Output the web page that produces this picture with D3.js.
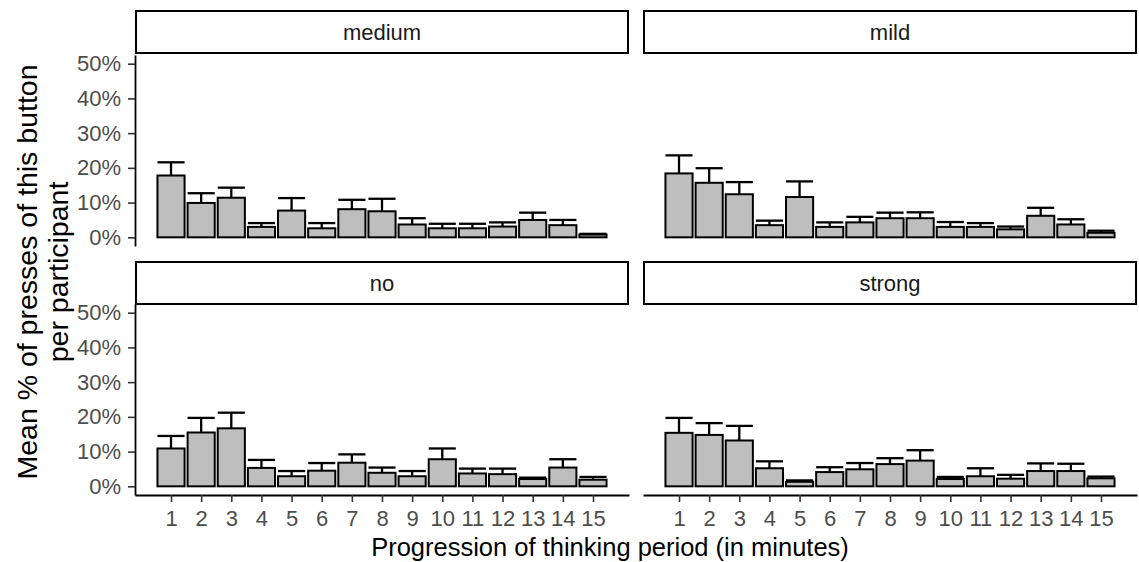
<!DOCTYPE html>
<html>
<head>
<meta charset="utf-8">
<script src="https://cdn.jsdelivr.net/npm/d3@7"></script>
<style>
  body { margin: 0; background: #fff; }
  text { font-family: "Liberation Sans", Arial, sans-serif; }
</style>
</head>
<body>
<div id="chart"></div>
<script>
// data (proportions)
var minutes = [1, 2, 3, 4, 5, 6, 7, 8, 9, 10, 11, 12, 13, 14, 15];
var conditions = ["medium", "mild", "no", "strong"];
var yTicks = [0, 0.1, 0.2, 0.3, 0.4, 0.5];

var meanMedium  = [0.178, 0.099, 0.114, 0.030, 0.077, 0.026, 0.081, 0.075, 0.037, 0.026, 0.026, 0.031, 0.050, 0.035, 0.008];
var upperMedium = [0.216, 0.127, 0.143, 0.041, 0.113, 0.041, 0.108, 0.111, 0.055, 0.039, 0.039, 0.043, 0.071, 0.050, 0.010];
var meanMild    = [0.184, 0.157, 0.124, 0.035, 0.116, 0.030, 0.043, 0.055, 0.055, 0.030, 0.030, 0.023, 0.062, 0.037, 0.013];
var upperMild   = [0.236, 0.199, 0.159, 0.048, 0.161, 0.043, 0.059, 0.071, 0.072, 0.044, 0.041, 0.031, 0.085, 0.052, 0.019];
var meanNo      = [0.109, 0.155, 0.167, 0.053, 0.029, 0.045, 0.068, 0.039, 0.029, 0.078, 0.037, 0.035, 0.021, 0.054, 0.019];
var upperNo     = [0.145, 0.197, 0.212, 0.076, 0.044, 0.067, 0.092, 0.054, 0.044, 0.109, 0.051, 0.051, 0.025, 0.078, 0.027];
var meanStrong  = [0.154, 0.148, 0.132, 0.052, 0.013, 0.041, 0.049, 0.064, 0.074, 0.021, 0.029, 0.022, 0.044, 0.044, 0.023];
var upperStrong = [0.197, 0.182, 0.174, 0.072, 0.017, 0.055, 0.067, 0.081, 0.104, 0.027, 0.052, 0.033, 0.066, 0.065, 0.028];

var means = {medium: meanMedium, mild: meanMild, no: meanNo, strong: meanStrong};
var uppers = {medium: upperMedium, mild: upperMild, no: upperNo, strong: upperStrong};

var svgWidth = 1139, svgHeight = 562;
var svg = d3.select("#chart").append("svg").attr("width", svgWidth).attr("height", svgHeight);

// panel layout (2 x 2 facets)
var colX = [135, 643];
var panelW = 494;
var rowStrip = [11, 262];
var stripH = 42;
var rowPanel = [55, 304];
var panelH = 191;
var barW = 0.9;
var textSize = 22;

var xScale = d3.scaleLinear().domain([0.55 - 0.745, 15.45 + 0.745]).range([0, panelW]);
var yScale = d3.scaleLinear().domain([-0.025, 0.525]).range([panelH, 0]);

conditions.forEach(function(cond, i) {
  var col = i % 2, row = Math.floor(i / 2);
  var g = svg.append("g").attr("transform", `translate(${colX[col]}, ${rowPanel[row]})`);

  // strip
  svg.append("rect")
    .attr("x", colX[col] + 1).attr("y", rowStrip[row])
    .attr("width", panelW - 2).attr("height", stripH)
    .attr("fill", "#fff").attr("stroke", "#000").attr("stroke-width", 2);
  svg.append("text")
    .attr("x", colX[col] + panelW / 2).attr("y", rowStrip[row] + stripH / 2)
    .attr("dy", "0.35em").attr("text-anchor", "middle")
    .attr("font-size", textSize).attr("fill", "#1a1a1a")
    .text(cond);

  var rows = minutes.map(function(m, k) { return {m: m, mean: means[cond][k], up: uppers[cond][k]}; });

  // error bars (upper half only; bar covers the rest)
  var eb = g.selectAll(".eb").data(rows).enter().append("g").attr("class", "eb");
  eb.append("line")
    .attr("x1", d => xScale(d.m)).attr("x2", d => xScale(d.m))
    .attr("y1", d => yScale(d.mean)).attr("y2", d => yScale(d.up))
    .attr("stroke", "#000").attr("stroke-width", 2.3);
  eb.append("line")
    .attr("x1", d => xScale(d.m - barW / 2)).attr("x2", d => xScale(d.m + barW / 2))
    .attr("y1", d => yScale(d.up)).attr("y2", d => yScale(d.up))
    .attr("stroke", "#000").attr("stroke-width", 2.3);

  // bars
  g.selectAll(".bar").data(rows).enter().append("rect")
    .attr("class", "bar")
    .attr("x", d => xScale(d.m - barW / 2))
    .attr("width", xScale(barW) - xScale(0))
    .attr("y", d => yScale(d.mean))
    .attr("height", d => yScale(0) - yScale(d.mean))
    .attr("fill", "#bebebe").attr("stroke", "#000").attr("stroke-width", 2);

  // y axis on left column
  if (col === 0) {
    var ya = g.append("g").call(d3.axisLeft(yScale).tickValues(yTicks).tickFormat(d3.format(".0%"))
      .tickSize(7).tickSizeOuter(0).tickPadding(7));
    ya.select(".domain").attr("stroke", "#000").attr("stroke-width", 1.8);
    ya.selectAll(".tick line").attr("stroke", "#333").attr("stroke-width", 1.6);
    ya.selectAll(".tick text").attr("font-size", textSize).attr("fill", "#4d4d4d").attr("font-family", "Liberation Sans, Arial, sans-serif");
  }
  // x axis on bottom row
  if (row === 1) {
    var xa = g.append("g").attr("transform", `translate(0, ${panelH})`)
      .call(d3.axisBottom(xScale).tickValues(minutes).tickFormat(d3.format("d"))
        .tickSize(7).tickSizeOuter(0).tickPadding(8));
    xa.select(".domain").attr("stroke", "#000").attr("stroke-width", 1.8);
    xa.selectAll(".tick line").attr("stroke", "#333").attr("stroke-width", 1.6);
    xa.selectAll(".tick text").attr("font-size", textSize).attr("fill", "#4d4d4d").attr("font-family", "Liberation Sans, Arial, sans-serif");
  }
});

// axis titles
svg.append("text")
  .attr("x", 610).attr("y", 556)
  .attr("text-anchor", "middle").attr("font-size", 25.5).attr("fill", "#000")
  .text("Progression of thinking period (in minutes)");

var yTitle = svg.append("text")
  .attr("transform", "translate(0, 272) rotate(-90)")
  .attr("text-anchor", "middle").attr("font-size", 28.5).attr("fill", "#000");
yTitle.append("tspan").attr("x", 0).attr("y", 37).text("Mean % of presses of this button");
yTitle.append("tspan").attr("x", 0).attr("y", 68).text("per participant");
</script>
</body>
</html>
